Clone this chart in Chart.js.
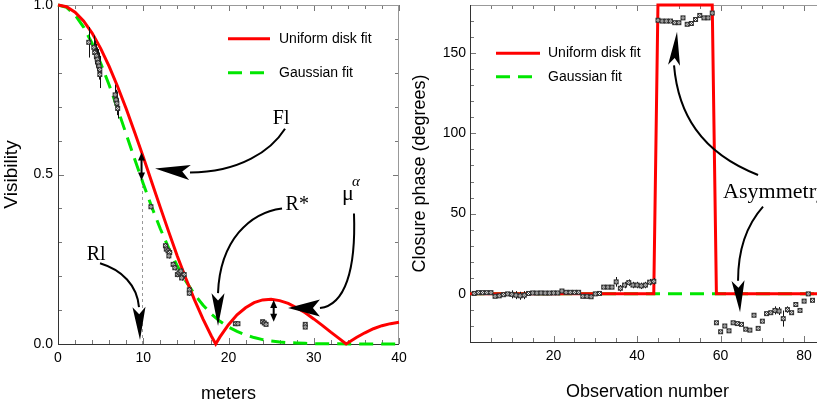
<!DOCTYPE html>
<html>
<head>
<meta charset="utf-8">
<title>Visibility and closure phase</title>
<script src="https://cdn.jsdelivr.net/npm/chart.js@4.4.1/dist/chart.umd.min.js"></script>
<style>
  html, body { margin: 0; padding: 0; background: #fff; }
  #page { position: relative; width: 817px; height: 403px; overflow: hidden; }
  #visChart { position: absolute; left: 0; top: 0; }
  #phaseChart { position: absolute; left: 410px; top: 0; }
</style>
</head>
<body>
<div id="page">
  <canvas id="visChart" width="410" height="403"></canvas>
  <canvas id="phaseChart" width="420" height="403"></canvas>
</div>
<script>
// ---- left panel: visibility against baseline (meters) ----
const baselineM = [0, 1, 2, 3, 4, 5, 6, 7, 8, 9, 10, 11, 12, 13, 14, 15, 16, 17, 18, 18.5,
  19, 20, 21, 22, 23, 24, 25, 26, 27, 28, 29, 30, 31, 32, 33, 33.8, 35, 36, 37, 38, 39, 40];
const diskFit = [1, 0.995, 0.979, 0.953, 0.917, 0.872, 0.819, 0.759, 0.694, 0.624,
  0.552, 0.477, 0.403, 0.330, 0.259, 0.193, 0.131, 0.074, 0.023, 0,
  0.021, 0.057, 0.086, 0.107, 0.122, 0.130, 0.132, 0.128, 0.120, 0.107,
  0.092, 0.074, 0.055, 0.035, 0.016, 0, 0.019, 0.033, 0.045, 0.054, 0.060, 0.064];
const gaussM = [0, 1, 2, 3, 4, 5, 6, 7, 8, 9, 10, 11, 12, 13, 14, 15, 16, 17, 18, 19, 20,
  21, 22, 23, 24, 25, 26, 27, 28, 29, 30, 32, 35, 40];
const gaussFit = [1, 0.993, 0.971, 0.935, 0.887, 0.829, 0.764, 0.693, 0.619, 0.545,
  0.473, 0.404, 0.340, 0.282, 0.230, 0.185, 0.147, 0.115, 0.088, 0.067,
  0.050, 0.037, 0.027, 0.019, 0.013, 0.009, 0.006, 0.004, 0.003, 0.002, 0.001, 0.0005, 0.0001, 0];

// measured visibilities
const visBase = [3.6, 4.2, 4.3, 4.5, 4.6, 4.7, 4.8, 4.9, 4.9, 6.7, 6.8, 6.9, 7.0, 10.9,
  12.6, 12.7, 12.9, 13.1, 13.0, 13.5, 13.7, 14.0, 14.2, 14.4, 14.6, 14.8, 14.5, 15.4, 15.4,
  20.8, 21.1, 24.0, 24.2, 24.4, 29.0, 29.0];
const visAmp = [0.89, 0.875, 0.86, 0.85, 0.84, 0.83, 0.82, 0.81, 0.795, 0.735, 0.72, 0.71, 0.695, 0.405,
  0.29, 0.28, 0.275, 0.27, 0.26, 0.235, 0.225, 0.205, 0.21, 0.215, 0.2, 0.205, 0.195, 0.16, 0.15,
  0.06, 0.06, 0.066, 0.062, 0.058, 0.058, 0.05];
const visErr = [0.045, 0.035, 0.035, 0.035, 0.035, 0.04, 0.04, 0.04, 0.04, 0.03, 0.03, 0.035, 0.03, 0.008,
  0.008, 0.008, 0.008, 0.008, 0.008, 0.008, 0.008, 0.008, 0.008, 0.008, 0.008, 0.008, 0.008, 0.008, 0.008,
  0.005, 0.005, 0.005, 0.005, 0.005, 0.006, 0.006];
const visXTicks = [0, 10, 20, 30, 40];
const visYTicks = [0, 0.5, 1];

// ---- right panel: closure phase against observation number ----
const obsNum = [1, 2, 3, 4, 5, 6, 7, 8, 9, 10, 11, 12, 13, 14, 15, 16, 17, 18, 19, 20,
  21, 22, 23, 24, 25, 26, 27, 28, 29, 30, 31, 32, 33, 34, 35, 36, 37, 38, 39, 40,
  41, 42, 43, 44, 45, 46, 47, 48, 49, 50, 51, 52, 53, 54, 55, 56, 57, 58, 59, 60,
  61, 62, 63, 64, 65, 66, 67, 68, 69, 70, 71, 72, 73, 74, 75, 76, 77, 78, 79, 80, 81, 82];
const phase = [0.3, 0.8, 0.8, 0.8, 0.8, -1.5, -1.2, -0.5, 0, -0.3, -0.8, -1.2, -0.8, 0.3, 0.6, 0.5, 0.6, 0.5, 0.5, 0.6,
  0.6, 1.8, 1, 1, 1, 1, -1.5, -1.5, -1.8, 0, 0.3, 4.2, 4.2, 4.2, 7.5, 3.5, 5.5, 7, 5.5, 5.5,
  5, 5.5, 7.3, 7.8, 170.5, 170, 170, 170, 169, 169, 172, 168, 168.5, 171, 173.5, 172, 172, 175, -18, -23.6,
  -20, -23, -18, -18.5, -19, -22, -22.6, -13.3, -21.5, -17, -12.3, -11.7, -10.3, -10.7, -15.4, -9.8, -11.7, -6.6, -10.3, -4.5, 0, -4];
const phaseErr = [1, 1, 1, 1, 1, 1, 1, 1, 1, 2.5, 2.5, 2.5, 2.5, 1.2, 1.2, 1.2, 1.2, 1.2, 1.2, 1.2,
  1.2, 1.2, 1.2, 1.2, 1.2, 1.2, 1.2, 1.2, 1.2, 1.2, 1.2, 1, 1, 1, 3, 2, 2, 2, 2, 2,
  2, 2, 2, 2, 1, 1, 1, 1, 1, 1, 1, 1, 1, 1, 1, 1, 1, 1, 1, 1,
  1, 1, 1, 1, 1, 1, 1, 1, 1, 1, 1, 1, 2.5, 2.5, 5, 2, 1, 1, 1, 1, 1, 1];
const modelObs = [0, 44, 45, 58, 59, 85];
const diskPhase = [0, 0, 180, 180, 0, 0];
const gaussObs = [0, 85];
const gaussPhase = [0, 0];
const obsTicks = [20, 40, 60, 80];
const phaseTicks = [0, 50, 100, 150];

// ---- annotations (in data units of each panel) ----
const visLabels = [
  { text: 'Fl', at: [25.2, 0.65], size: 20 },
  { text: 'R*', at: [26.7, 0.394], size: 20 },
  { text: 'Rl', at: [3.37, 0.247], size: 20 },
  { text: 'μ', at: [33.31, 0.424], size: 22 },
  { text: 'α', at: [34.49, 0.465], size: 15, style: 'italic ' }
];
const visArrows = [
  { path: [[26.63, 0.635], [25.02, 0.571], [21.35, 0.506], [15.48, 0.506], [11.38, 0.518]], width: 15 },
  { path: [[4.93, 0.238], [7.51, 0.218], [9.27, 0.174], [9.5, 0.109], [9.62, 0.012]], width: 13 },
  { path: [[26.28, 0.4], [22.52, 0.388], [19.0, 0.306], [18.77, 0.15], [18.77, 0.053]], width: 13 },
  { path: [[34.72, 0.385], [34.96, 0.218], [33.67, 0.115], [30.73, 0.106], [26.98, 0.106]], width: 17 }
];
const visSpans = [[[9.8, 0.565], [9.8, 0.482]], [[25.3, 0.13], [25.3, 0.066]]];
const visGuides = [[[9.8, 0], [9.8, 0.47]]];

const phaseLabels = [{ text: 'Asymmetry', at: [60.6, 59.9], size: 22 }];
const phaseArrows = [
  { path: [[68.97, 74.1], [55.08, 88.2], [49.81, 112.9], [48.85, 142.4], [49.57, 163.3]], width: 12 },
  { path: [[70.16, 54.4], [66.57, 43.9], [64.18, 29.7], [64.18, 8.2], [64.66, -11.5]], width: 13 }
];

const RED = '#ff0000';
const GREEN = '#00e600';
Chart.defaults.font.family = '"Liberation Sans", Arial, sans-serif';

// small boxed-cross marker used for the measurements
const marker = (() => {
  const c = document.createElement('canvas');
  c.width = 7; c.height = 7;
  const g = c.getContext('2d');
  g.fillStyle = '#fff'; g.fillRect(1, 1, 5, 5);
  g.strokeStyle = '#333'; g.lineWidth = 1;
  g.strokeRect(1.5, 1.5, 4, 4);
  g.beginPath();
  g.moveTo(1.5, 1.5); g.lineTo(5.5, 5.5);
  g.moveTo(5.5, 1.5); g.lineTo(1.5, 5.5);
  g.stroke();
  return c;
})();

function setTicks(values) {
  return scale => { scale.ticks = values.map(v => ({ value: v })); };
}

function xy(xs, ys) {
  return xs.map((v, i) => ({ x: v, y: ys[i] }));
}

function arrowHead(ctx, e, t, w, notch) {
  const dx = t[0] - e[0], dy = t[1] - e[1];
  const L = Math.hypot(dx, dy), ux = dx / L, uy = dy / L, nx = -uy, ny = ux;
  ctx.beginPath();
  ctx.moveTo(t[0], t[1]);
  ctx.lineTo(e[0] + nx * w / 2, e[1] + ny * w / 2);
  ctx.lineTo(e[0] + ux * L * notch, e[1] + uy * L * notch);
  ctx.lineTo(e[0] - nx * w / 2, e[1] - ny * w / 2);
  ctx.closePath();
  ctx.fill();
}

// error bars, drawn just before the marker dataset
const errorBars = {
  id: 'errorBars',
  beforeDatasetDraw(chart, args) {
    const ds = chart.data.datasets[args.index];
    if (!ds.errs) return;
    const { ctx, chartArea: a, scales: { x, y } } = chart;
    ctx.save();
    ctx.beginPath();
    ctx.rect(a.left, a.top, a.width, a.height);
    ctx.clip();
    ctx.strokeStyle = '#111';
    ctx.lineWidth = 1;
    ds.data.forEach((p, i) => {
      const px = Math.round(x.getPixelForValue(p.x)) + 0.5;
      ctx.beginPath();
      ctx.moveTo(px, y.getPixelForValue(p.y - ds.errs[i]));
      ctx.lineTo(px, y.getPixelForValue(p.y + ds.errs[i]));
      ctx.stroke();
    });
    ctx.restore();
  }
};

// box frame with inward ticks on every side
const frame = {
  id: 'frame',
  beforeDatasetsDraw(chart, args, o) {
    const { ctx, chartArea: a, scales: { x, y } } = chart;
    const seg = (x1, y1, x2, y2) => { ctx.beginPath(); ctx.moveTo(x1, y1); ctx.lineTo(x2, y2); ctx.stroke(); };
    const isMajor = (v, m) => Math.abs(v / m - Math.round(v / m)) < 1e-6;
    ctx.save();
    ctx.lineWidth = 1;
    ctx.strokeStyle = '#777';
    const nx = Math.round((x.max - x.min) / o.xStep);
    for (let i = 0; i <= nx; i++) {
      const v = x.min + i * o.xStep;
      const len = isMajor(v, o.xMajor) ? 6 : 4;
      const px = Math.round(x.getPixelForValue(v)) + 0.5;
      seg(px, a.bottom, px, a.bottom - len);
      seg(px, a.top, px, a.top + len);
    }
    const ny = Math.round((y.max - y.min) / o.yStep);
    for (let i = 0; i <= ny; i++) {
      const v = y.min + i * o.yStep;
      const len = isMajor(v, o.yMajor) ? 6 : 4;
      const py = Math.round(y.getPixelForValue(v)) + 0.5;
      seg(a.left, py, a.left + len, py);
      seg(a.right, py, a.right - len, py);
    }
    ctx.strokeStyle = '#999';
    seg(a.left, a.top + 0.5, a.right, a.top + 0.5);
    seg(a.right - 0.5, a.top, a.right - 0.5, a.bottom);
    ctx.strokeStyle = '#333';
    seg(a.left + 0.5, a.top, a.left + 0.5, a.bottom + 1);
    seg(a.left, a.bottom + 0.5, a.right, a.bottom + 0.5);
    ctx.restore();
  }
};

// legend, labels and arrows
const notes = {
  id: 'notes',
  afterDatasetsDraw(chart, args, o) {
    const { ctx, chartArea: a, scales: { x, y } } = chart;
    const P = p => [x.getPixelForValue(p[0]), y.getPixelForValue(p[1])];
    ctx.save();
    ctx.fillStyle = '#000';
    ctx.strokeStyle = '#000';

    (o.guides || []).forEach(g => {
      const p1 = P(g[0]), p2 = P(g[1]);
      ctx.save();
      ctx.strokeStyle = '#999'; ctx.lineWidth = 1; ctx.setLineDash([3, 3]);
      ctx.beginPath();
      ctx.moveTo(Math.round(p1[0]) + 0.5, p1[1]);
      ctx.lineTo(Math.round(p2[0]) + 0.5, p2[1]);
      ctx.stroke();
      ctx.restore();
    });

    (o.arrows || []).forEach(ar => {
      const [s, c1, c2, e, t] = ar.path.map(P);
      ctx.lineWidth = 2;
      ctx.beginPath();
      ctx.moveTo(s[0], s[1]);
      ctx.bezierCurveTo(c1[0], c1[1], c2[0], c2[1], e[0], e[1]);
      ctx.stroke();
      arrowHead(ctx, e, t, ar.width, 0.22);
    });

    (o.spans || []).forEach(sp => {
      const p1 = P(sp[0]), p2 = P(sp[1]);
      const cx = p1[0], top = Math.min(p1[1], p2[1]), bot = Math.max(p1[1], p2[1]);
      ctx.lineWidth = 2;
      ctx.beginPath(); ctx.moveTo(cx, top + 5); ctx.lineTo(cx, bot - 5); ctx.stroke();
      arrowHead(ctx, [cx, top + 8], [cx, top], 7, 0);
      arrowHead(ctx, [cx, bot - 8], [cx, bot], 7, 0);
    });

    (o.labels || []).forEach(l => {
      ctx.font = (l.style || '') + l.size + 'px "Liberation Serif", "Times New Roman", serif';
      ctx.textAlign = 'left';
      ctx.textBaseline = 'alphabetic';
      const p = P(l.at);
      ctx.fillText(l.text, p[0], p[1]);
    });

    const lg = o.legend;
    if (lg) {
      chart.data.datasets.filter(d => d.inLegend).forEach((d, i) => {
        const lx = a.left + lg.x, ly = a.top + lg.rows[i];
        ctx.save();
        ctx.strokeStyle = d.borderColor;
        ctx.lineWidth = 3;
        ctx.setLineDash(d.borderDash || []);
        ctx.beginPath(); ctx.moveTo(lx, ly); ctx.lineTo(lx + lg.len, ly); ctx.stroke();
        ctx.restore();
        ctx.font = '14px "Liberation Sans", Arial, sans-serif';
        ctx.textAlign = 'left';
        ctx.textBaseline = 'middle';
        ctx.fillText(d.label, lx + lg.textAt, ly);
      });
    }
    ctx.restore();
  }
};

// fixed axis box sizes, without the label overhang padding Chart.js adds
function fixHeight(h) {
  return s => { s.height = h; s.paddingLeft = 0; s.paddingRight = 0; };
}
function fixWidth(w) {
  return s => { s.width = w; s.paddingTop = 0; s.paddingBottom = 0; };
}

function axis(opts) {
  return {
    type: 'linear',
    min: opts.min, max: opts.max,
    afterBuildTicks: setTicks(opts.ticks),
    afterFit: opts.fit,
    grid: { display: false, drawTicks: false },
    border: { display: false },
    ticks: { padding: opts.pad, color: '#000', font: { size: 14 }, autoSkip: false, maxRotation: 0,
             callback: opts.fmt || (v => v) },
    title: { display: true, text: opts.title, color: '#000',
             font: { size: opts.titleSize, lineHeight: 1 }, padding: opts.titlePad }
  };
}

new Chart(document.getElementById('visChart'), {
  type: 'scatter',
  data: {
    datasets: [
      { label: 'Uniform disk fit', inLegend: true, data: xy(baselineM, diskFit), showLine: true,
        borderColor: RED, borderWidth: 3, pointRadius: 0, tension: 0, clip: 4, order: 1 },
      { label: 'Gaussian fit', inLegend: true, data: xy(gaussM, gaussFit), showLine: true,
        borderColor: GREEN, borderDash: [14, 8], borderWidth: 3, pointRadius: 0, tension: 0, clip: 4, order: 2 },
      { label: 'Visibility', data: xy(visBase, visAmp), errs: visErr,
        pointStyle: marker, pointRadius: 3.5, order: 0 }
    ]
  },
  options: {
    responsive: false,
    animation: false,
    events: [],
    layout: { padding: { top: 4, right: 11, left: 0, bottom: 0 } },
    scales: {
      x: axis({ min: 0, max: 40, ticks: visXTicks, fit: fixHeight(59), pad: 6,
                title: 'meters', titleSize: 18, titlePad: { top: 0, bottom: 0 } }),
      y: axis({ min: 0, max: 1, ticks: visYTicks, fit: fixWidth(58), pad: 5,
                fmt: v => v.toFixed(1), title: 'Visibility', titleSize: 19, titlePad: { top: 2, bottom: 0 } })
    },
    plugins: {
      legend: { display: false },
      tooltip: { enabled: false },
      frame: { xStep: 2, xMajor: 10, yStep: 0.1, yMajor: 0.5 },
      notes: { labels: visLabels, arrows: visArrows, spans: visSpans, guides: visGuides,
               legend: { x: 170, rows: [33.7, 67.7], len: 42, textAt: 51 } }
    }
  },
  plugins: [frame, errorBars, notes]
});

new Chart(document.getElementById('phaseChart'), {
  type: 'scatter',
  data: {
    datasets: [
      { label: 'Uniform disk fit', inLegend: true, data: xy(modelObs, diskPhase), showLine: true,
        borderColor: RED, borderWidth: 3, pointRadius: 0, tension: 0, clip: 4, order: 1 },
      { label: 'Gaussian fit', inLegend: true, data: xy(gaussObs, gaussPhase), showLine: true,
        borderColor: GREEN, borderDash: [14, 8], borderWidth: 3, pointRadius: 0, tension: 0, clip: 4, order: 2 },
      { label: 'Closure phase', data: xy(obsNum, phase), errs: phaseErr,
        pointStyle: marker, pointRadius: 3.5, order: 0 }
    ]
  },
  options: {
    responsive: false,
    animation: false,
    events: [],
    layout: { padding: { top: 1, right: 5, left: 0, bottom: 0 } },
    scales: {
      x: axis({ min: 0, max: 85, ticks: obsTicks, fit: fixHeight(61), pad: 6,
                title: 'Observation number', titleSize: 18, titlePad: { top: 0, bottom: 2 } }),
      y: axis({ min: -30, max: 180, ticks: phaseTicks, fit: fixWidth(60), pad: 4,
                title: 'Closure phase (degrees)', titleSize: 18, titlePad: { top: 1, bottom: 0 } })
    },
    plugins: {
      legend: { display: false },
      tooltip: { enabled: false },
      frame: { xStep: 5, xMajor: 20, yStep: 10, yMajor: 50 },
      notes: { labels: phaseLabels, arrows: phaseArrows,
               legend: { x: 26, rows: [48.3, 71.7], len: 44, textAt: 52 } }
    }
  },
  plugins: [frame, errorBars, notes]
});
</script>
</body>
</html>
